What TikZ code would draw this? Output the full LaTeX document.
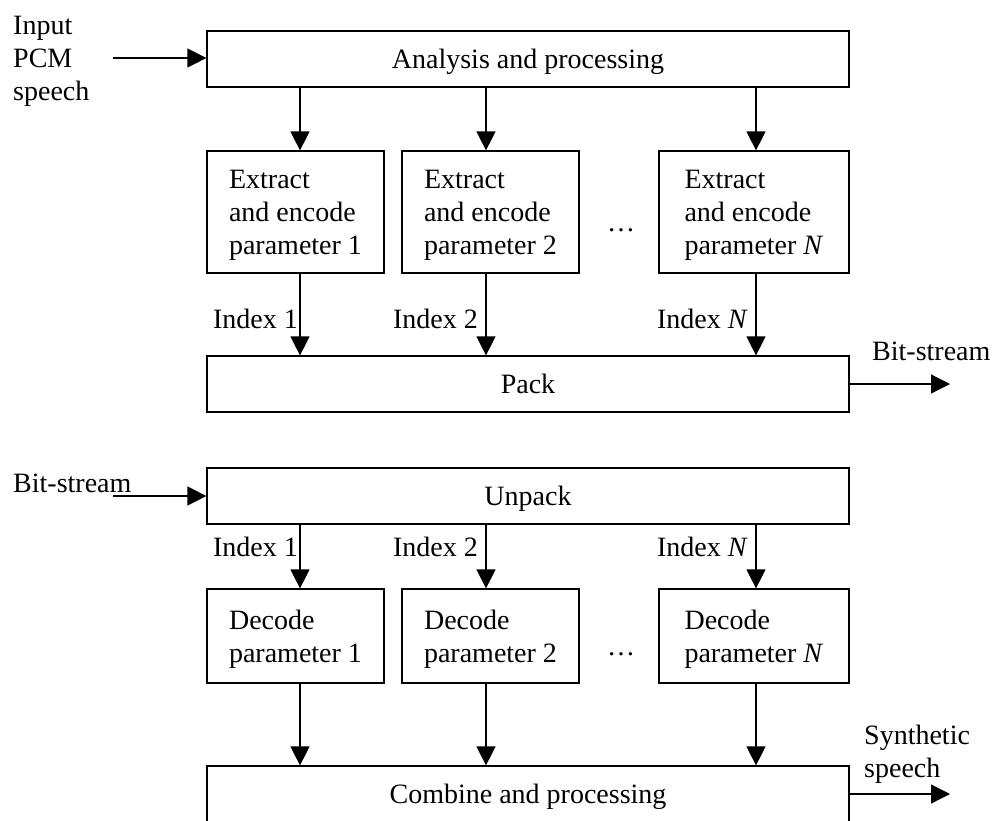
\documentclass[tikz,border=0pt]{standalone}
\usepackage{fontspec}
\setmainfont{Liberation Serif}
\usetikzlibrary{arrows.meta}
\begin{document}
\begin{tikzpicture}[x=1pt,y=-1pt,
  every node/.style={font=\fontsize{28}{33}\selectfont, inner sep=0pt},
  box/.style={draw, line width=1.2pt, align=left, text depth=0pt},
  wide/.style={box, minimum width=642pt, minimum height=56pt},
  pbox/.style={box, minimum width=177pt},
  arr/.style={line width=1.2pt, -{Triangle[length=19pt,width=19pt]}},
  lbl/.style={align=left, text depth=0pt}
]
\useasboundingbox (0,0) rectangle (994,820);
\clip (0,0) rectangle (994,820);
% ---------- encoder ----------
\node[wide] (ana) at (528,59) {Analysis and processing};
\node[pbox, minimum height=122pt] (e1) at (295.5,212) {Extract\\and encode\\parameter 1};
\node[pbox, minimum height=122pt] (e2) at (490.5,212) {Extract\\and encode\\parameter 2};
\node[box, minimum width=190pt, minimum height=122pt] (e3) at (754,212) {Extract\\and encode\\parameter \textit{N}};
\node[anchor=base] (dots1) at (621,231) {\ldots};
\node[wide] (pack) at (528,384) {Pack};
\node[lbl, anchor=west] (inlbl) at (13,58) {Input\\PCM\\speech};
\coordinate (in) at (113,58);
\draw[arr] (in) -- (in -| ana.west);
\foreach \bx/\x in {e1/300, e2/486, e3/756}{
  \draw[arr] (ana.south -| \x,0) -- (\bx.north -| \x,0);
  \draw[arr] (\bx.south -| \x,0) -- (pack.north -| \x,0);
}
\node[anchor=east] (i1) at (298,319) {Index 1};
\node[anchor=east] (i2) at (478,319) {Index 2};
\node[anchor=east] (i3) at (748,319) {Index \textit{N}};
\coordinate (bsout) at (950,384);
\draw[arr] (pack.east) -- (bsout);
\node[anchor=west] (bs1) at (872,351) {Bit-stream};
% ---------- decoder ----------
\node[wide] (unp) at (528,496) {Unpack};
\node[anchor=west] (bs2) at (13,483) {Bit-stream};
\coordinate (bsin) at (113,496);
\draw[arr] (bsin) -- (unp.west);
\node[pbox, minimum height=94pt] (d1) at (295.5,636) {Decode\\parameter 1};
\node[pbox, minimum height=94pt] (d2) at (490.5,636) {Decode\\parameter 2};
\node[box, minimum width=190pt, minimum height=94pt] (d3) at (754,636) {Decode\\parameter \textit{N}};
\node[anchor=base] (dots2) at (621,655) {\ldots};
\node[wide] (comb) at (528,794) {Combine and processing};
\foreach \bx/\x in {d1/300, d2/486, d3/756}{
  \draw[arr] (unp.south -| \x,0) -- (\bx.north -| \x,0);
  \draw[arr] (\bx.south -| \x,0) -- (comb.north -| \x,0);
}
\node[anchor=east] (j1) at (298,547) {Index 1};
\node[anchor=east] (j2) at (478,547) {Index 2};
\node[anchor=east] (j3) at (748,547) {Index \textit{N}};
\coordinate (synout) at (950,794);
\draw[arr] (comb.east) -- (synout);
\node[lbl, anchor=west] (syn) at (864,751) {Synthetic\\speech};
\end{tikzpicture}
\end{document}
